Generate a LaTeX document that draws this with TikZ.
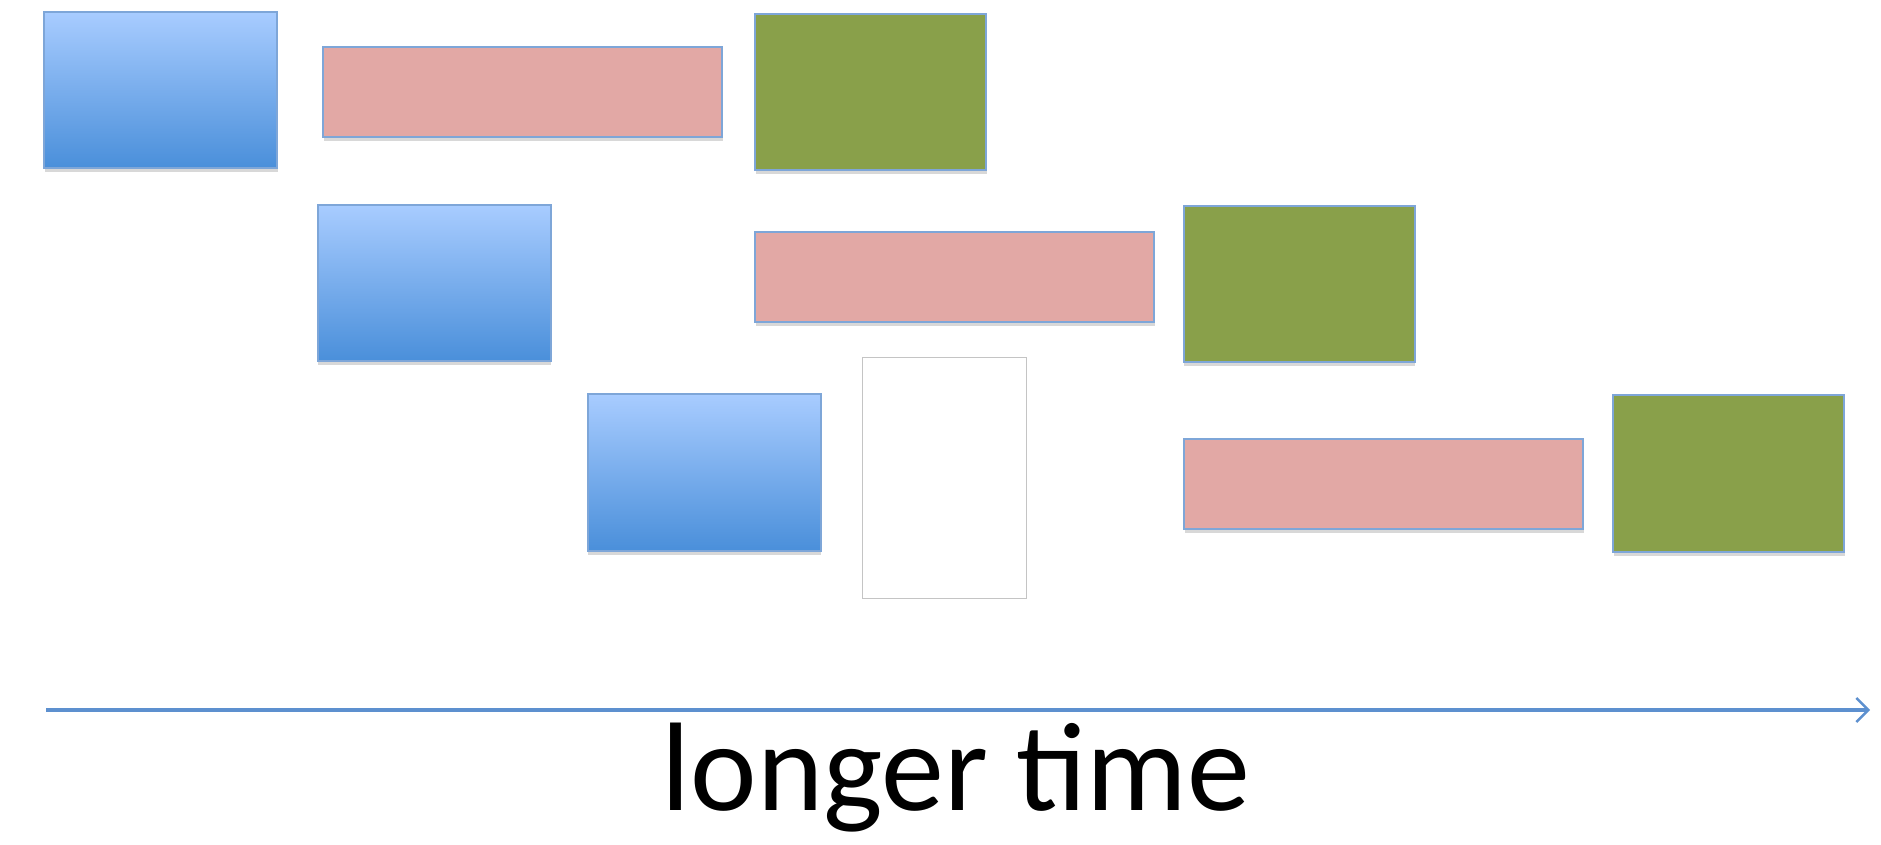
\documentclass[tikz,border=0pt]{standalone}
\usepackage{fontspec}
\setmainfont{Carlito}
\usetikzlibrary{shadows,arrows.meta}
\definecolor{bluetop}{HTML}{A8CCFF}
\definecolor{bluebot}{HTML}{4A8FDA}
\definecolor{pinkfill}{HTML}{E2A8A5}
\definecolor{greenfill}{HTML}{89A04A}
\definecolor{edgeblue}{HTML}{7EA6D8}
\definecolor{arrowblue}{HTML}{5D90CF}
\definecolor{greyedge}{HTML}{C4C4C4}
\tikzset{
  boxbase/.style={draw=edgeblue, line width=1pt, inner sep=0pt,
    drop shadow={opacity=0.3, shadow xshift=0.4pt, shadow yshift=-2pt}},
  bluebox/.style={boxbase, top color=bluetop, bottom color=bluebot,
    minimum width=116.5pt, minimum height=78pt},
  pinkbox/.style={boxbase, fill=pinkfill, minimum width=199.5pt, minimum height=45pt},
  greenbox/.style={boxbase, fill=greenfill, minimum width=115.5pt, minimum height=78pt},
  emptybox/.style={draw=greyedge, line width=0.5pt, fill=white, inner sep=0pt,
    minimum width=82pt, minimum height=120pt},
  timearrow/.style={draw=arrowblue, line width=1.8pt,
    -{Straight Barb[length=6pt, width=12pt, line width=1.2pt]}},
  label/.style={font=\fontsize{63}{70}\selectfont, inner sep=0pt, anchor=base}
}
\begin{document}
\begin{tikzpicture}[x=0.5pt, y=-0.5pt]
\useasboundingbox[fill=white] (0,0) rectangle (1881,845);
% row 1
\node[bluebox]  (b1) at (160.5,90) {};
\node[pinkbox]  (p1) at (522.5,92) {};
\node[greenbox] (g1) at (870.5,92) {};
% row 2
\node[bluebox]  (b2) at (434,283) {};
\node[pinkbox]  (p2) at (954.5,277) {};
\node[greenbox] (g2) at (1299,284) {};
% row 3
\node[bluebox]  (b3) at (704,472.5) {};
\node[emptybox] (w3) at (944,478) {};
\node[pinkbox]  (p3) at (1383.5,484) {};
\node[greenbox] (g3) at (1728.5,473.5) {};
% time axis
\coordinate (ta) at (46,710);
\coordinate (tb) at (1870,710);
\draw[timearrow] (ta) -- (tb);
\node[label] (lt) at (956,810) {longer time};
\end{tikzpicture}
\end{document}
